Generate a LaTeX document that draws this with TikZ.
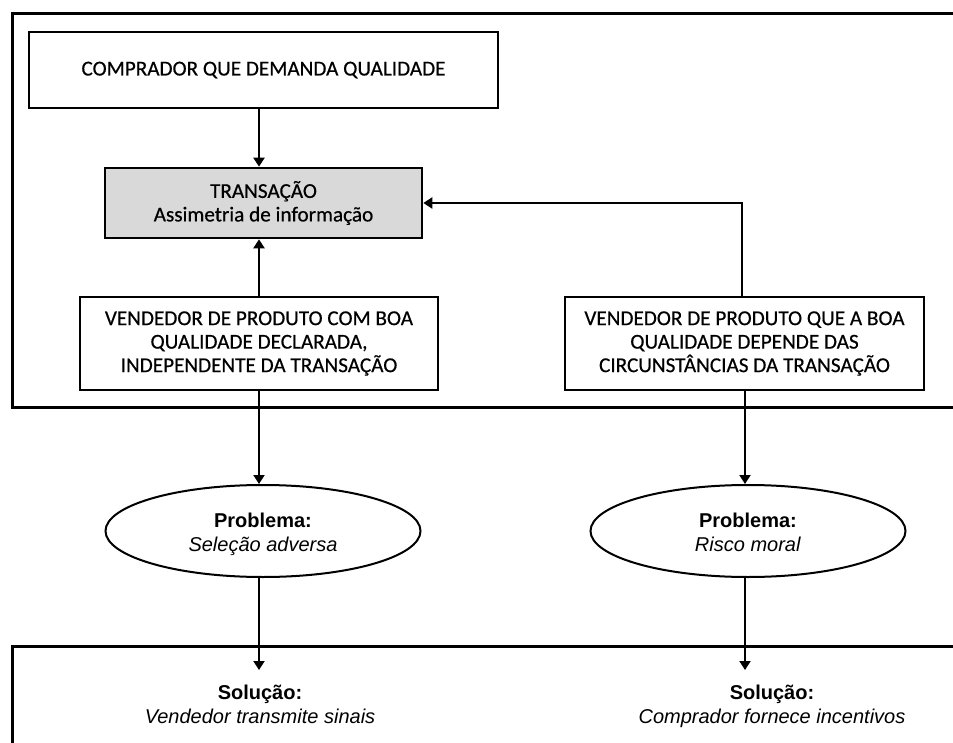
\documentclass[tikz,border=0pt]{standalone}
\usepackage{fontspec}
\setmainfont{Carlito}
\newfontfamily\boxfont{Carlito}[FakeBold=0.5]
\newfontfamily\arialfont{Liberation Sans}
\usetikzlibrary{arrows.meta,shapes.geometric}

\tikzset{
  frame/.style={line width=3pt},
  box/.style={draw, line width=2.6pt, align=center, inner sep=0pt,
    font=\boxfont\fontsize{21.2}{23.5}\selectfont},
  grayfill/.style={fill=boxgray},
  oval/.style={draw, ellipse, line width=2pt, align=center, inner sep=0pt,
    minimum width=315pt, minimum height=92pt,
    font=\arialfont\fontsize{20}{24}\selectfont},
  soltext/.style={align=center, inner sep=0pt,
    font=\arialfont\fontsize{20}{24}\selectfont},
  link/.style={line width=2pt, -{Triangle[width=11pt,length=9pt]}},
}
\definecolor{boxgray}{HTML}{D9D9D9}
% taller first line pushes the two-line text slightly below the centre
\newcommand{\lowstrut}{\rule{0pt}{24.8pt}}

\begin{document}
\begin{tikzpicture}[x=1pt, y=-1pt]
  \useasboundingbox (0,0) rectangle (953,743);
  \clip (0,0) rectangle (953,743);

  % outer frames (open to the right and bottom)
  \draw[frame] (12,14) rectangle (975,407);
  \draw[frame] (12,646) rectangle (975,770);

  % boxes
  \node[box, minimum width=469pt, minimum height=76pt] (buyer) at (263.5,70)
    {COMPRADOR QUE DEMANDA  QUALIDADE};
  \node[box, grayfill, minimum width=317pt, minimum height=70pt] (trans) at (263.5,203)
    {TRANSAÇÃO\\Assimetria de informação};
  \node[box, minimum width=358pt, minimum height=93pt] (sellA) at (259,343.5)
    {VENDEDOR DE PRODUTO COM BOA\\QUALIDADE DECLARADA,\\INDEPENDENTE DA TRANSAÇÃO};
  \node[box, minimum width=359pt, minimum height=93pt] (sellB) at (744.5,343.5)
    {VENDEDOR DE PRODUTO QUE A BOA\\QUALIDADE DEPENDE DAS\\CIRCUNSTÂNCIAS DA TRANSAÇÃO};

  % problems
  \node[oval] (probA) at (263,531)
    {\lowstrut\textbf{Problema:}\\\textit{Seleção adversa}\strut};
  \node[oval] (probB) at (748,531)
    {\lowstrut\textbf{Problema:}\\\textit{Risco moral}\strut};

  % solutions
  \node[soltext] (solA) at (260,707)
    {\strut\textbf{Solução:}\\\textit{Vendedor transmite sinais}\strut};
  \node[soltext] (solB) at (772,707)
    {\strut\textbf{Solução:}\\\textit{Comprador fornece incentivos}\strut};
  \coordinate (tipA) at (259,670);
  \coordinate (tipB) at (745,670);

  % connectors
  \draw[link] (buyer.south -| 259,0) -- (trans.north -| 259,0);
  \draw[link] (sellA.north -| 259,0) -- (trans.south -| 259,0);
  \draw[link] (sellB.north -| 742,0) |- (trans.east);
  \draw[link] (sellA.south -| 259,0) -- (probA.north -| 259,0);
  \draw[link] (sellB.south -| 745,0) -- (probB.north -| 745,0);
  \draw[link] (probA.south -| 259,0) -- (tipA);
  \draw[link] (probB.south -| 745,0) -- (tipB);
\end{tikzpicture}
\end{document}
